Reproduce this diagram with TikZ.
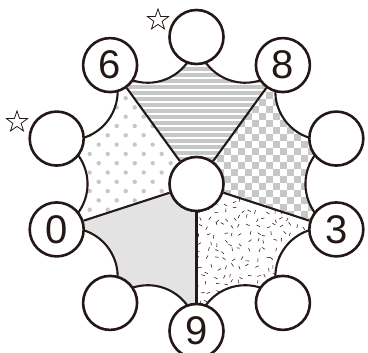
\documentclass[tikz,border=0pt]{standalone}
\usepackage{fontspec}
\setmainfont{Liberation Sans}
\usetikzlibrary{shapes.geometric}
\definecolor{inkc}{HTML}{231815}
\definecolor{patgray}{HTML}{C6C7C7}
\definecolor{solidgray}{HTML}{E3E3E3}
\newcommand\scallop[1]{arc[start angle={#1+93.62}, end angle={#1+230.38}, radius=48.86]}
\begin{document}
\begin{tikzpicture}[x=1pt,y=1pt,
  ball/.style={circle, draw=inkc, fill=white, line width=2.6pt, minimum size=54pt, inner sep=0pt,
    font=\fontsize{40}{40}\selectfont, text=inkc},
  spoke/.style={draw=inkc, line width=2.1pt},
  scalline/.style={draw=inkc, line width=2.1pt},
  starmark/.style={star, star points=5, star point ratio=2.5, draw=inkc, fill=white,
    line width=0.8pt, minimum size=22pt, inner sep=0pt}]
\useasboundingbox (0,0) rectangle (368,353);
\coordinate (O) at (196.5,169);
\foreach \k in {0,...,9} \path (O) ++({90-36*\k}:147) coordinate (p\k);

% stripes (top sector)
\begin{scope}
  \clip (O) -- (p9) \scallop{126} \scallop{90} -- cycle;
  \foreach \y in {150,156,...,330} \fill[patgray] (90,\y) rectangle (300,\y+3.5);
\end{scope}
% checkerboard (right sector)
\begin{scope}
  \clip (O) -- (p1) \scallop{54} \scallop{18} -- cycle;
  \foreach \j in {0,...,32}{
    \pgfmathsetmacro\off{7*mod(\j,2)}
    \foreach \i in {0,...,12} \fill[patgray] (189+\off+14*\i, 79+7*\j) rectangle ++(7,7);
  }
\end{scope}
% confetti (bottom right sector)
\begin{scope}
  \clip (O) -- (p3) \scallop{-18} \scallop{-54} -- cycle;
  \pgfmathsetseed{7}
  \foreach \i in {0,...,19} \foreach \j in {0,...,19}{
    \pgfmathsetmacro\xx{192+8.2*\i+3.2*rand}
    \pgfmathsetmacro\yy{20+8.2*\j+3.2*rand}
    \pgfmathsetmacro\aa{180*rnd}
    \draw[inkc, line width=0.55pt] (\xx,\yy) ++(\aa:-1.8) -- ++(\aa:3.6);
  }
\end{scope}
% solid (bottom left sector)
\fill[solidgray] (O) -- (p5) \scallop{-90} \scallop{-126} -- cycle;
% dots (left sector)
\begin{scope}
  \clip (O) -- (p7) \scallop{-162} \scallop{-198} -- cycle;
  \foreach \j in {0,...,22}{
    \pgfmathsetmacro\off{9*mod(\j,2)}
    \foreach \i in {0,...,11} \fill[patgray] (8.7+\off+18*\i, 115.4+9.3*\j) circle (2.2);
  }
\end{scope}

% scalloped border
\foreach \k in {0,...,9} \draw[scalline] (p\k) \scallop{90-36*\k};

% circles
\node[ball] (n0) at (p0) {};
\node[ball] (n1) at (p1) {8};
\node[ball] (n2) at (p2) {};
\node[ball] (n3) at (p3) {3};
\node[ball] (n4) at (p4) {};
\node[ball] (n5) at (p5) {9};
\node[ball] (n6) at (p6) {};
\node[ball] (n7) at (p7) {0};
\node[ball] (n8) at (p8) {};
\node[ball] (n9) at (p9) {6};
\node[ball] (c) at (O) {};

% spokes
\draw[spoke] (c) -- (n9);
\draw[spoke] (c) -- (n1);
\draw[spoke] (c) -- (n3);
\draw[spoke] (c) -- (n5);
\draw[spoke] (c) -- (n7);

% stars
\node[starmark] (s1) at (158,333) {};
\node[starmark] (s2) at (17,231) {};
\end{tikzpicture}
\end{document}
